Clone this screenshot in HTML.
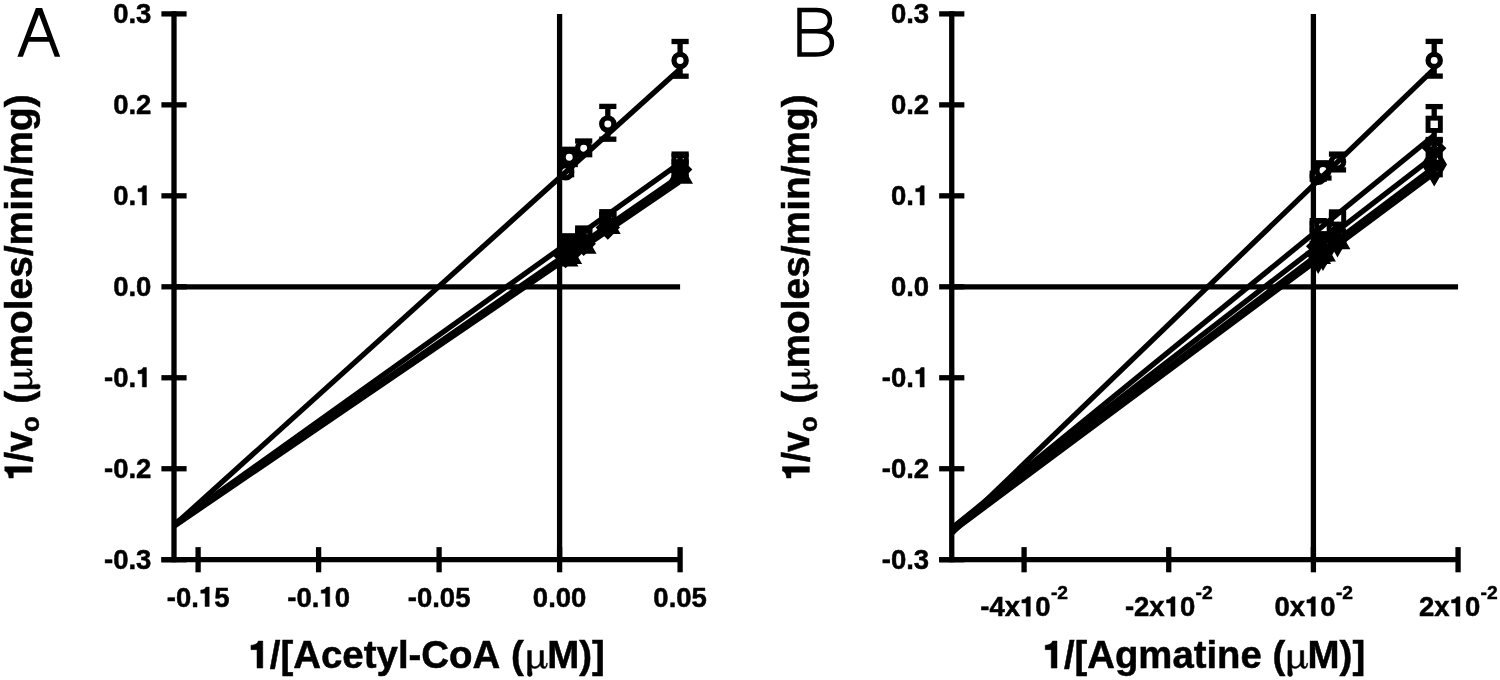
<!DOCTYPE html>
<html><head><meta charset="utf-8"><title>Figure</title>
<style>html,body{margin:0;padding:0;background:#fff;}body{width:1500px;height:680px;overflow:hidden;}svg{display:block;will-change:transform;font-kerning:none;font-family:"Liberation Sans", sans-serif;fill:#000;}</style></head><body>
<svg width="1500" height="680" viewBox="0 0 1500 680">
<rect width="1500" height="680" fill="#fff"/>
<line x1="174.00" y1="11.24" x2="174.00" y2="562.36" stroke="#000" stroke-width="5.3" />
<line x1="161.40" y1="559.71" x2="680.10" y2="559.71" stroke="#000" stroke-width="5.3" />
<line x1="174.00" y1="286.80" x2="680.10" y2="286.80" stroke="#000" stroke-width="5.3" />
<line x1="559.60" y1="13.89" x2="559.60" y2="559.71" stroke="#000" stroke-width="5.3" />
<line x1="161.40" y1="13.89" x2="186.60" y2="13.89" stroke="#000" stroke-width="5.3" />
<text transform="translate(113.18,23.09) scale(0.975177304964539,1)" font-size="28.2" font-weight="bold" text-anchor="start" stroke="#000" stroke-width="0.5" >0.3</text>
<line x1="161.40" y1="104.86" x2="186.60" y2="104.86" stroke="#000" stroke-width="5.3" />
<text transform="translate(113.18,114.06) scale(0.975177304964539,1)" font-size="28.2" font-weight="bold" text-anchor="start" stroke="#000" stroke-width="0.5" >0.2</text>
<line x1="161.40" y1="195.83" x2="186.60" y2="195.83" stroke="#000" stroke-width="5.3" />
<text transform="translate(113.18,205.03) scale(0.975177304964539,1)" font-size="28.2" font-weight="bold" text-anchor="start" stroke="#000" stroke-width="0.5" >0.</text>
<path transform="translate(136.11,205.03) scale(27.500,-28.200)" d="M.376,0 V.688 H.258 C.245,.634 .19,.588 .069,.582 V.470 H.226 V0 Z" fill="#000" stroke="#000" stroke-width="0.0177"/>
<line x1="161.40" y1="286.80" x2="186.60" y2="286.80" stroke="#000" stroke-width="5.3" />
<text transform="translate(113.18,296.00) scale(0.975177304964539,1)" font-size="28.2" font-weight="bold" text-anchor="start" stroke="#000" stroke-width="0.5" >0.0</text>
<line x1="161.40" y1="377.77" x2="186.60" y2="377.77" stroke="#000" stroke-width="5.3" />
<text transform="translate(104.02,386.97) scale(0.975177304964539,1)" font-size="28.2" font-weight="bold" text-anchor="start" stroke="#000" stroke-width="0.5" >-0.</text>
<path transform="translate(136.11,386.97) scale(27.500,-28.200)" d="M.376,0 V.688 H.258 C.245,.634 .19,.588 .069,.582 V.470 H.226 V0 Z" fill="#000" stroke="#000" stroke-width="0.0177"/>
<line x1="161.40" y1="468.74" x2="186.60" y2="468.74" stroke="#000" stroke-width="5.3" />
<text transform="translate(104.02,477.94) scale(0.975177304964539,1)" font-size="28.2" font-weight="bold" text-anchor="start" stroke="#000" stroke-width="0.5" >-0.2</text>
<line x1="161.40" y1="559.71" x2="186.60" y2="559.71" stroke="#000" stroke-width="5.3" />
<text transform="translate(104.02,568.91) scale(0.975177304964539,1)" font-size="28.2" font-weight="bold" text-anchor="start" stroke="#000" stroke-width="0.5" >-0.3</text>
<line x1="198.10" y1="547.11" x2="198.10" y2="572.31" stroke="#000" stroke-width="5.3" />
<text transform="translate(166.76,606.50) scale(0.975177304964539,1)" font-size="28.2" font-weight="bold" text-anchor="start" stroke="#000" stroke-width="0.5" >-0.</text>
<path transform="translate(198.86,606.50) scale(27.500,-28.200)" d="M.376,0 V.688 H.258 C.245,.634 .19,.588 .069,.582 V.470 H.226 V0 Z" fill="#000" stroke="#000" stroke-width="0.0177"/>
<text transform="translate(214.15,606.50) scale(0.975177304964539,1)" font-size="28.2" font-weight="bold" text-anchor="start" stroke="#000" stroke-width="0.5" >5</text>
<line x1="318.60" y1="547.11" x2="318.60" y2="572.31" stroke="#000" stroke-width="5.3" />
<text transform="translate(287.26,606.50) scale(0.975177304964539,1)" font-size="28.2" font-weight="bold" text-anchor="start" stroke="#000" stroke-width="0.5" >-0.</text>
<path transform="translate(319.36,606.50) scale(27.500,-28.200)" d="M.376,0 V.688 H.258 C.245,.634 .19,.588 .069,.582 V.470 H.226 V0 Z" fill="#000" stroke="#000" stroke-width="0.0177"/>
<text transform="translate(334.65,606.50) scale(0.975177304964539,1)" font-size="28.2" font-weight="bold" text-anchor="start" stroke="#000" stroke-width="0.5" >0</text>
<line x1="439.10" y1="547.11" x2="439.10" y2="572.31" stroke="#000" stroke-width="5.3" />
<text transform="translate(407.76,606.50) scale(0.975177304964539,1)" font-size="28.2" font-weight="bold" text-anchor="start" stroke="#000" stroke-width="0.5" >-0.05</text>
<line x1="559.60" y1="547.11" x2="559.60" y2="572.31" stroke="#000" stroke-width="5.3" />
<text transform="translate(532.84,606.50) scale(0.975177304964539,1)" font-size="28.2" font-weight="bold" text-anchor="start" stroke="#000" stroke-width="0.5" >0.00</text>
<line x1="680.10" y1="547.11" x2="680.10" y2="572.31" stroke="#000" stroke-width="5.3" />
<text transform="translate(653.34,606.50) scale(0.975177304964539,1)" font-size="28.2" font-weight="bold" text-anchor="start" stroke="#000" stroke-width="0.5" >0.05</text>
<clipPath id="ca"><rect x="174.00" y="0" width="506.70" height="680"/></clipPath>
<clipPath id="cb"><rect x="951.75" y="0" width="506.91" height="680"/></clipPath>
<line x1="565.62" y1="168.70" x2="565.62" y2="174.70" stroke="#000" stroke-width="5.3" />
<line x1="557.02" y1="168.70" x2="574.23" y2="168.70" stroke="#000" stroke-width="5.3" />
<line x1="557.02" y1="174.70" x2="574.23" y2="174.70" stroke="#000" stroke-width="5.3" />
<circle cx="565.62" cy="171.70" r="6.1" fill="#fff" stroke="#000" stroke-width="5.3"/>
<line x1="569.24" y1="149.30" x2="569.24" y2="164.50" stroke="#000" stroke-width="5.3" />
<line x1="560.64" y1="149.30" x2="577.84" y2="149.30" stroke="#000" stroke-width="5.3" />
<line x1="560.64" y1="164.50" x2="577.84" y2="164.50" stroke="#000" stroke-width="5.3" />
<circle cx="569.24" cy="157.20" r="6.1" fill="#fff" stroke="#000" stroke-width="5.3"/>
<line x1="583.70" y1="141.00" x2="583.70" y2="154.70" stroke="#000" stroke-width="5.3" />
<line x1="575.10" y1="141.00" x2="592.30" y2="141.00" stroke="#000" stroke-width="5.3" />
<line x1="575.10" y1="154.70" x2="592.30" y2="154.70" stroke="#000" stroke-width="5.3" />
<circle cx="583.70" cy="148.25" r="6.1" fill="#fff" stroke="#000" stroke-width="5.3"/>
<line x1="607.80" y1="106.40" x2="607.80" y2="139.20" stroke="#000" stroke-width="5.3" />
<line x1="599.20" y1="106.40" x2="616.40" y2="106.40" stroke="#000" stroke-width="5.3" />
<line x1="599.20" y1="139.20" x2="616.40" y2="139.20" stroke="#000" stroke-width="5.3" />
<circle cx="607.80" cy="124.00" r="6.1" fill="#fff" stroke="#000" stroke-width="5.3"/>
<line x1="680.10" y1="41.50" x2="680.10" y2="76.20" stroke="#000" stroke-width="5.3" />
<line x1="671.50" y1="41.50" x2="688.70" y2="41.50" stroke="#000" stroke-width="5.3" />
<line x1="671.50" y1="76.20" x2="688.70" y2="76.20" stroke="#000" stroke-width="5.3" />
<circle cx="680.10" cy="60.50" r="6.1" fill="#fff" stroke="#000" stroke-width="5.3"/>
<line x1="565.62" y1="239.50" x2="565.62" y2="245.50" stroke="#000" stroke-width="5.3" />
<line x1="557.02" y1="239.50" x2="574.23" y2="239.50" stroke="#000" stroke-width="5.3" />
<line x1="557.02" y1="245.50" x2="574.23" y2="245.50" stroke="#000" stroke-width="5.3" />
<rect x="559.48" y="236.35" width="12.30" height="12.30" fill="none" stroke="#000" stroke-width="4.9"/>
<line x1="569.24" y1="238.80" x2="569.24" y2="244.80" stroke="#000" stroke-width="5.3" />
<line x1="560.64" y1="238.80" x2="577.84" y2="238.80" stroke="#000" stroke-width="5.3" />
<line x1="560.64" y1="244.80" x2="577.84" y2="244.80" stroke="#000" stroke-width="5.3" />
<rect x="563.09" y="235.65" width="12.30" height="12.30" fill="none" stroke="#000" stroke-width="4.9"/>
<line x1="583.70" y1="231.00" x2="583.70" y2="237.00" stroke="#000" stroke-width="5.3" />
<line x1="575.10" y1="231.00" x2="592.30" y2="231.00" stroke="#000" stroke-width="5.3" />
<line x1="575.10" y1="237.00" x2="592.30" y2="237.00" stroke="#000" stroke-width="5.3" />
<rect x="577.55" y="227.85" width="12.30" height="12.30" fill="none" stroke="#000" stroke-width="4.9"/>
<line x1="607.80" y1="214.70" x2="607.80" y2="220.70" stroke="#000" stroke-width="5.3" />
<line x1="599.20" y1="214.70" x2="616.40" y2="214.70" stroke="#000" stroke-width="5.3" />
<line x1="599.20" y1="220.70" x2="616.40" y2="220.70" stroke="#000" stroke-width="5.3" />
<rect x="601.65" y="211.55" width="12.30" height="12.30" fill="none" stroke="#000" stroke-width="4.9"/>
<line x1="680.10" y1="154.10" x2="680.10" y2="169.90" stroke="#000" stroke-width="5.3" />
<line x1="671.50" y1="154.10" x2="688.70" y2="154.10" stroke="#000" stroke-width="5.3" />
<line x1="671.50" y1="169.90" x2="688.70" y2="169.90" stroke="#000" stroke-width="5.3" />
<rect x="673.95" y="155.85" width="12.30" height="12.30" fill="none" stroke="#000" stroke-width="4.9"/>
<line x1="565.62" y1="253.10" x2="565.62" y2="259.10" stroke="#000" stroke-width="5.3" />
<line x1="557.02" y1="253.10" x2="574.23" y2="253.10" stroke="#000" stroke-width="5.3" />
<line x1="557.02" y1="259.10" x2="574.23" y2="259.10" stroke="#000" stroke-width="5.3" />
<polygon points="565.62,247.30 574.42,256.10 565.62,264.90 556.83,256.10" fill="none" stroke="#000" stroke-width="4.9" stroke-linejoin="miter"/>
<line x1="569.24" y1="251.00" x2="569.24" y2="257.00" stroke="#000" stroke-width="5.3" />
<line x1="560.64" y1="251.00" x2="577.84" y2="251.00" stroke="#000" stroke-width="5.3" />
<line x1="560.64" y1="257.00" x2="577.84" y2="257.00" stroke="#000" stroke-width="5.3" />
<polygon points="569.24,245.20 578.04,254.00 569.24,262.80 560.44,254.00" fill="none" stroke="#000" stroke-width="4.9" stroke-linejoin="miter"/>
<line x1="583.70" y1="240.70" x2="583.70" y2="246.70" stroke="#000" stroke-width="5.3" />
<line x1="575.10" y1="240.70" x2="592.30" y2="240.70" stroke="#000" stroke-width="5.3" />
<line x1="575.10" y1="246.70" x2="592.30" y2="246.70" stroke="#000" stroke-width="5.3" />
<polygon points="583.70,234.90 592.50,243.70 583.70,252.50 574.90,243.70" fill="none" stroke="#000" stroke-width="4.9" stroke-linejoin="miter"/>
<line x1="607.80" y1="224.40" x2="607.80" y2="230.40" stroke="#000" stroke-width="5.3" />
<line x1="599.20" y1="224.40" x2="616.40" y2="224.40" stroke="#000" stroke-width="5.3" />
<line x1="599.20" y1="230.40" x2="616.40" y2="230.40" stroke="#000" stroke-width="5.3" />
<polygon points="607.80,218.60 616.60,227.40 607.80,236.20 599.00,227.40" fill="none" stroke="#000" stroke-width="4.9" stroke-linejoin="miter"/>
<line x1="680.10" y1="161.90" x2="680.10" y2="177.10" stroke="#000" stroke-width="5.3" />
<line x1="671.50" y1="161.90" x2="688.70" y2="161.90" stroke="#000" stroke-width="5.3" />
<line x1="671.50" y1="177.10" x2="688.70" y2="177.10" stroke="#000" stroke-width="5.3" />
<polygon points="680.10,160.70 688.90,169.50 680.10,178.30 671.30,169.50" fill="none" stroke="#000" stroke-width="4.9" stroke-linejoin="miter"/>
<line x1="565.62" y1="256.15" x2="565.62" y2="262.15" stroke="#000" stroke-width="5.3" />
<line x1="557.02" y1="256.15" x2="574.23" y2="256.15" stroke="#000" stroke-width="5.3" />
<line x1="557.02" y1="262.15" x2="574.23" y2="262.15" stroke="#000" stroke-width="5.3" />
<polygon points="565.62,249.15 574.28,264.15 556.97,264.15" fill="none" stroke="#000" stroke-width="4.9" stroke-linejoin="miter"/>
<line x1="569.24" y1="253.55" x2="569.24" y2="259.55" stroke="#000" stroke-width="5.3" />
<line x1="560.64" y1="253.55" x2="577.84" y2="253.55" stroke="#000" stroke-width="5.3" />
<line x1="560.64" y1="259.55" x2="577.84" y2="259.55" stroke="#000" stroke-width="5.3" />
<polygon points="569.24,246.55 577.90,261.55 560.58,261.55" fill="none" stroke="#000" stroke-width="4.9" stroke-linejoin="miter"/>
<line x1="583.70" y1="243.35" x2="583.70" y2="249.35" stroke="#000" stroke-width="5.3" />
<line x1="575.10" y1="243.35" x2="592.30" y2="243.35" stroke="#000" stroke-width="5.3" />
<line x1="575.10" y1="249.35" x2="592.30" y2="249.35" stroke="#000" stroke-width="5.3" />
<polygon points="583.70,236.35 592.36,251.35 575.04,251.35" fill="none" stroke="#000" stroke-width="4.9" stroke-linejoin="miter"/>
<line x1="607.80" y1="223.55" x2="607.80" y2="229.55" stroke="#000" stroke-width="5.3" />
<line x1="599.20" y1="223.55" x2="616.40" y2="223.55" stroke="#000" stroke-width="5.3" />
<line x1="599.20" y1="229.55" x2="616.40" y2="229.55" stroke="#000" stroke-width="5.3" />
<polygon points="607.80,216.55 616.46,231.55 599.14,231.55" fill="none" stroke="#000" stroke-width="4.9" stroke-linejoin="miter"/>
<line x1="680.10" y1="173.25" x2="680.10" y2="179.25" stroke="#000" stroke-width="5.3" />
<line x1="671.50" y1="173.25" x2="688.70" y2="173.25" stroke="#000" stroke-width="5.3" />
<line x1="671.50" y1="179.25" x2="688.70" y2="179.25" stroke="#000" stroke-width="5.3" />
<polygon points="680.10,166.25 688.76,181.25 671.44,181.25" fill="none" stroke="#000" stroke-width="4.9" stroke-linejoin="miter"/>
<g clip-path="url(#ca)">
<line x1="174.00" y1="525.40" x2="680.10" y2="68.90" stroke="#000" stroke-width="5.3" />
<line x1="174.00" y1="524.30" x2="680.10" y2="162.80" stroke="#000" stroke-width="5.3" />
<line x1="174.00" y1="525.40" x2="680.10" y2="175.90" stroke="#000" stroke-width="5.3" />
<line x1="174.00" y1="526.20" x2="680.10" y2="181.40" stroke="#000" stroke-width="5.3" />
</g>
<line x1="951.75" y1="11.24" x2="951.75" y2="562.36" stroke="#000" stroke-width="5.3" />
<line x1="939.15" y1="559.71" x2="1458.06" y2="559.71" stroke="#000" stroke-width="5.3" />
<line x1="951.75" y1="286.80" x2="1458.06" y2="286.80" stroke="#000" stroke-width="5.3" />
<line x1="1313.40" y1="13.89" x2="1313.40" y2="559.71" stroke="#000" stroke-width="5.3" />
<line x1="939.15" y1="13.89" x2="964.35" y2="13.89" stroke="#000" stroke-width="5.3" />
<text transform="translate(890.92,23.09) scale(0.975177304964539,1)" font-size="28.2" font-weight="bold" text-anchor="start" stroke="#000" stroke-width="0.5" >0.3</text>
<line x1="939.15" y1="104.86" x2="964.35" y2="104.86" stroke="#000" stroke-width="5.3" />
<text transform="translate(890.92,114.06) scale(0.975177304964539,1)" font-size="28.2" font-weight="bold" text-anchor="start" stroke="#000" stroke-width="0.5" >0.2</text>
<line x1="939.15" y1="195.83" x2="964.35" y2="195.83" stroke="#000" stroke-width="5.3" />
<text transform="translate(890.92,205.03) scale(0.975177304964539,1)" font-size="28.2" font-weight="bold" text-anchor="start" stroke="#000" stroke-width="0.5" >0.</text>
<path transform="translate(913.86,205.03) scale(27.500,-28.200)" d="M.376,0 V.688 H.258 C.245,.634 .19,.588 .069,.582 V.470 H.226 V0 Z" fill="#000" stroke="#000" stroke-width="0.0177"/>
<line x1="939.15" y1="286.80" x2="964.35" y2="286.80" stroke="#000" stroke-width="5.3" />
<text transform="translate(890.92,296.00) scale(0.975177304964539,1)" font-size="28.2" font-weight="bold" text-anchor="start" stroke="#000" stroke-width="0.5" >0.0</text>
<line x1="939.15" y1="377.77" x2="964.35" y2="377.77" stroke="#000" stroke-width="5.3" />
<text transform="translate(881.77,386.97) scale(0.975177304964539,1)" font-size="28.2" font-weight="bold" text-anchor="start" stroke="#000" stroke-width="0.5" >-0.</text>
<path transform="translate(913.86,386.97) scale(27.500,-28.200)" d="M.376,0 V.688 H.258 C.245,.634 .19,.588 .069,.582 V.470 H.226 V0 Z" fill="#000" stroke="#000" stroke-width="0.0177"/>
<line x1="939.15" y1="468.74" x2="964.35" y2="468.74" stroke="#000" stroke-width="5.3" />
<text transform="translate(881.77,477.94) scale(0.975177304964539,1)" font-size="28.2" font-weight="bold" text-anchor="start" stroke="#000" stroke-width="0.5" >-0.2</text>
<line x1="939.15" y1="559.71" x2="964.35" y2="559.71" stroke="#000" stroke-width="5.3" />
<text transform="translate(881.77,568.91) scale(0.975177304964539,1)" font-size="28.2" font-weight="bold" text-anchor="start" stroke="#000" stroke-width="0.5" >-0.3</text>
<line x1="1024.08" y1="547.11" x2="1024.08" y2="572.31" stroke="#000" stroke-width="5.3" />
<text transform="translate(980.24,616.20) scale(0.975177304964539,1)" font-size="28.2" font-weight="bold" text-anchor="start" stroke="#000" stroke-width="0.5" >-4x</text>
<path transform="translate(1019.97,616.20) scale(27.500,-28.200)" d="M.376,0 V.688 H.258 C.245,.634 .19,.588 .069,.582 V.470 H.226 V0 Z" fill="#000" stroke="#000" stroke-width="0.0177"/>
<text transform="translate(1035.26,616.20) scale(0.975177304964539,1)" font-size="28.2" font-weight="bold" text-anchor="start" stroke="#000" stroke-width="0.5" >0</text>
<text transform="translate(1050.95,599.20) scale(1.0,1)" font-size="19.2" font-weight="bold" text-anchor="start" stroke="#000" stroke-width="0.5" >-2</text>
<line x1="1168.74" y1="547.11" x2="1168.74" y2="572.31" stroke="#000" stroke-width="5.3" />
<text transform="translate(1124.90,616.20) scale(0.975177304964539,1)" font-size="28.2" font-weight="bold" text-anchor="start" stroke="#000" stroke-width="0.5" >-2x</text>
<path transform="translate(1164.63,616.20) scale(27.500,-28.200)" d="M.376,0 V.688 H.258 C.245,.634 .19,.588 .069,.582 V.470 H.226 V0 Z" fill="#000" stroke="#000" stroke-width="0.0177"/>
<text transform="translate(1179.92,616.20) scale(0.975177304964539,1)" font-size="28.2" font-weight="bold" text-anchor="start" stroke="#000" stroke-width="0.5" >0</text>
<text transform="translate(1195.61,599.20) scale(1.0,1)" font-size="19.2" font-weight="bold" text-anchor="start" stroke="#000" stroke-width="0.5" >-2</text>
<line x1="1313.40" y1="547.11" x2="1313.40" y2="572.31" stroke="#000" stroke-width="5.3" />
<text transform="translate(1274.39,616.20) scale(0.975177304964539,1)" font-size="28.2" font-weight="bold" text-anchor="start" stroke="#000" stroke-width="0.5" >0x</text>
<path transform="translate(1304.97,616.20) scale(27.500,-28.200)" d="M.376,0 V.688 H.258 C.245,.634 .19,.588 .069,.582 V.470 H.226 V0 Z" fill="#000" stroke="#000" stroke-width="0.0177"/>
<text transform="translate(1320.26,616.20) scale(0.975177304964539,1)" font-size="28.2" font-weight="bold" text-anchor="start" stroke="#000" stroke-width="0.5" >0</text>
<text transform="translate(1335.95,599.20) scale(1.0,1)" font-size="19.2" font-weight="bold" text-anchor="start" stroke="#000" stroke-width="0.5" >-2</text>
<line x1="1458.06" y1="547.11" x2="1458.06" y2="572.31" stroke="#000" stroke-width="5.3" />
<text transform="translate(1419.05,616.20) scale(0.975177304964539,1)" font-size="28.2" font-weight="bold" text-anchor="start" stroke="#000" stroke-width="0.5" >2x</text>
<path transform="translate(1449.63,616.20) scale(27.500,-28.200)" d="M.376,0 V.688 H.258 C.245,.634 .19,.588 .069,.582 V.470 H.226 V0 Z" fill="#000" stroke="#000" stroke-width="0.0177"/>
<text transform="translate(1464.92,616.20) scale(0.975177304964539,1)" font-size="28.2" font-weight="bold" text-anchor="start" stroke="#000" stroke-width="0.5" >0</text>
<text transform="translate(1480.61,599.20) scale(1.0,1)" font-size="19.2" font-weight="bold" text-anchor="start" stroke="#000" stroke-width="0.5" >-2</text>
<line x1="1318.20" y1="173.20" x2="1318.20" y2="179.20" stroke="#000" stroke-width="5.3" />
<line x1="1309.60" y1="173.20" x2="1326.80" y2="173.20" stroke="#000" stroke-width="5.3" />
<line x1="1309.60" y1="179.20" x2="1326.80" y2="179.20" stroke="#000" stroke-width="5.3" />
<circle cx="1318.20" cy="176.20" r="6.1" fill="#fff" stroke="#000" stroke-width="5.3"/>
<line x1="1323.00" y1="162.80" x2="1323.00" y2="178.00" stroke="#000" stroke-width="5.3" />
<line x1="1314.40" y1="162.80" x2="1331.60" y2="162.80" stroke="#000" stroke-width="5.3" />
<line x1="1314.40" y1="178.00" x2="1331.60" y2="178.00" stroke="#000" stroke-width="5.3" />
<circle cx="1323.00" cy="170.40" r="6.1" fill="#fff" stroke="#000" stroke-width="5.3"/>
<line x1="1337.50" y1="154.10" x2="1337.50" y2="169.90" stroke="#000" stroke-width="5.3" />
<line x1="1328.90" y1="154.10" x2="1346.10" y2="154.10" stroke="#000" stroke-width="5.3" />
<line x1="1328.90" y1="169.90" x2="1346.10" y2="169.90" stroke="#000" stroke-width="5.3" />
<circle cx="1337.50" cy="162.00" r="6.1" fill="#fff" stroke="#000" stroke-width="5.3"/>
<line x1="1434.20" y1="41.40" x2="1434.20" y2="76.10" stroke="#000" stroke-width="5.3" />
<line x1="1425.60" y1="41.40" x2="1442.80" y2="41.40" stroke="#000" stroke-width="5.3" />
<line x1="1425.60" y1="76.10" x2="1442.80" y2="76.10" stroke="#000" stroke-width="5.3" />
<circle cx="1434.20" cy="60.40" r="6.1" fill="#fff" stroke="#000" stroke-width="5.3"/>
<line x1="1318.20" y1="223.60" x2="1318.20" y2="229.60" stroke="#000" stroke-width="5.3" />
<line x1="1309.60" y1="223.60" x2="1326.80" y2="223.60" stroke="#000" stroke-width="5.3" />
<line x1="1309.60" y1="229.60" x2="1326.80" y2="229.60" stroke="#000" stroke-width="5.3" />
<rect x="1312.05" y="220.45" width="12.30" height="12.30" fill="#fff" stroke="#000" stroke-width="4.9"/>
<line x1="1323.00" y1="224.40" x2="1323.00" y2="230.40" stroke="#000" stroke-width="5.3" />
<line x1="1314.40" y1="224.40" x2="1331.60" y2="224.40" stroke="#000" stroke-width="5.3" />
<line x1="1314.40" y1="230.40" x2="1331.60" y2="230.40" stroke="#000" stroke-width="5.3" />
<rect x="1316.85" y="221.25" width="12.30" height="12.30" fill="#fff" stroke="#000" stroke-width="4.9"/>
<line x1="1337.50" y1="214.90" x2="1337.50" y2="220.90" stroke="#000" stroke-width="5.3" />
<line x1="1328.90" y1="214.90" x2="1346.10" y2="214.90" stroke="#000" stroke-width="5.3" />
<line x1="1328.90" y1="220.90" x2="1346.10" y2="220.90" stroke="#000" stroke-width="5.3" />
<rect x="1331.35" y="211.75" width="12.30" height="12.30" fill="#fff" stroke="#000" stroke-width="4.9"/>
<line x1="1434.20" y1="106.60" x2="1434.20" y2="139.50" stroke="#000" stroke-width="5.3" />
<line x1="1425.60" y1="106.60" x2="1442.80" y2="106.60" stroke="#000" stroke-width="5.3" />
<line x1="1425.60" y1="139.50" x2="1442.80" y2="139.50" stroke="#000" stroke-width="5.3" />
<rect x="1428.05" y="118.15" width="12.30" height="12.30" fill="#fff" stroke="#000" stroke-width="4.9"/>
<line x1="1318.20" y1="243.35" x2="1318.20" y2="249.35" stroke="#000" stroke-width="5.3" />
<line x1="1309.60" y1="243.35" x2="1326.80" y2="243.35" stroke="#000" stroke-width="5.3" />
<line x1="1309.60" y1="249.35" x2="1326.80" y2="249.35" stroke="#000" stroke-width="5.3" />
<polygon points="1318.20,237.55 1327.00,246.35 1318.20,255.15 1309.40,246.35" fill="none" stroke="#000" stroke-width="4.9" stroke-linejoin="miter"/>
<line x1="1323.00" y1="240.70" x2="1323.00" y2="246.70" stroke="#000" stroke-width="5.3" />
<line x1="1314.40" y1="240.70" x2="1331.60" y2="240.70" stroke="#000" stroke-width="5.3" />
<line x1="1314.40" y1="246.70" x2="1331.60" y2="246.70" stroke="#000" stroke-width="5.3" />
<polygon points="1323.00,234.90 1331.80,243.70 1323.00,252.50 1314.20,243.70" fill="none" stroke="#000" stroke-width="4.9" stroke-linejoin="miter"/>
<line x1="1337.50" y1="231.00" x2="1337.50" y2="237.00" stroke="#000" stroke-width="5.3" />
<line x1="1328.90" y1="231.00" x2="1346.10" y2="231.00" stroke="#000" stroke-width="5.3" />
<line x1="1328.90" y1="237.00" x2="1346.10" y2="237.00" stroke="#000" stroke-width="5.3" />
<polygon points="1337.50,225.20 1346.30,234.00 1337.50,242.80 1328.70,234.00" fill="none" stroke="#000" stroke-width="4.9" stroke-linejoin="miter"/>
<line x1="1434.20" y1="141.00" x2="1434.20" y2="154.70" stroke="#000" stroke-width="5.3" />
<line x1="1425.60" y1="141.00" x2="1442.80" y2="141.00" stroke="#000" stroke-width="5.3" />
<line x1="1425.60" y1="154.70" x2="1442.80" y2="154.70" stroke="#000" stroke-width="5.3" />
<polygon points="1434.20,139.45 1443.00,148.25 1434.20,157.05 1425.40,148.25" fill="none" stroke="#000" stroke-width="4.9" stroke-linejoin="miter"/>
<line x1="1318.20" y1="253.55" x2="1318.20" y2="259.55" stroke="#000" stroke-width="5.3" />
<line x1="1309.60" y1="253.55" x2="1326.80" y2="253.55" stroke="#000" stroke-width="5.3" />
<line x1="1309.60" y1="259.55" x2="1326.80" y2="259.55" stroke="#000" stroke-width="5.3" />
<polygon points="1318.20,246.55 1326.86,261.55 1309.54,261.55" fill="none" stroke="#000" stroke-width="4.9" stroke-linejoin="miter"/>
<line x1="1323.00" y1="251.00" x2="1323.00" y2="257.00" stroke="#000" stroke-width="5.3" />
<line x1="1314.40" y1="251.00" x2="1331.60" y2="251.00" stroke="#000" stroke-width="5.3" />
<line x1="1314.40" y1="257.00" x2="1331.60" y2="257.00" stroke="#000" stroke-width="5.3" />
<polygon points="1323.00,244.00 1331.66,259.00 1314.34,259.00" fill="none" stroke="#000" stroke-width="4.9" stroke-linejoin="miter"/>
<line x1="1337.50" y1="238.80" x2="1337.50" y2="244.80" stroke="#000" stroke-width="5.3" />
<line x1="1328.90" y1="238.80" x2="1346.10" y2="238.80" stroke="#000" stroke-width="5.3" />
<line x1="1328.90" y1="244.80" x2="1346.10" y2="244.80" stroke="#000" stroke-width="5.3" />
<polygon points="1337.50,231.80 1346.16,246.80 1328.84,246.80" fill="none" stroke="#000" stroke-width="4.9" stroke-linejoin="miter"/>
<line x1="1434.20" y1="149.30" x2="1434.20" y2="164.50" stroke="#000" stroke-width="5.3" />
<line x1="1425.60" y1="149.30" x2="1442.80" y2="149.30" stroke="#000" stroke-width="5.3" />
<line x1="1425.60" y1="164.50" x2="1442.80" y2="164.50" stroke="#000" stroke-width="5.3" />
<polygon points="1434.20,147.20 1442.86,162.20 1425.54,162.20" fill="none" stroke="#000" stroke-width="4.9" stroke-linejoin="miter"/>
<line x1="1318.20" y1="256.15" x2="1318.20" y2="262.15" stroke="#000" stroke-width="5.3" />
<line x1="1309.60" y1="256.15" x2="1326.80" y2="256.15" stroke="#000" stroke-width="5.3" />
<line x1="1309.60" y1="262.15" x2="1326.80" y2="262.15" stroke="#000" stroke-width="5.3" />
<polygon points="1318.20,269.15 1326.86,254.15 1309.54,254.15" fill="none" stroke="#000" stroke-width="4.9" stroke-linejoin="miter"/>
<line x1="1323.00" y1="253.10" x2="1323.00" y2="259.10" stroke="#000" stroke-width="5.3" />
<line x1="1314.40" y1="253.10" x2="1331.60" y2="253.10" stroke="#000" stroke-width="5.3" />
<line x1="1314.40" y1="259.10" x2="1331.60" y2="259.10" stroke="#000" stroke-width="5.3" />
<polygon points="1323.00,266.10 1331.66,251.10 1314.34,251.10" fill="none" stroke="#000" stroke-width="4.9" stroke-linejoin="miter"/>
<line x1="1337.50" y1="239.50" x2="1337.50" y2="245.50" stroke="#000" stroke-width="5.3" />
<line x1="1328.90" y1="239.50" x2="1346.10" y2="239.50" stroke="#000" stroke-width="5.3" />
<line x1="1328.90" y1="245.50" x2="1346.10" y2="245.50" stroke="#000" stroke-width="5.3" />
<polygon points="1337.50,252.50 1346.16,237.50 1328.84,237.50" fill="none" stroke="#000" stroke-width="4.9" stroke-linejoin="miter"/>
<line x1="1434.20" y1="168.70" x2="1434.20" y2="174.70" stroke="#000" stroke-width="5.3" />
<line x1="1425.60" y1="168.70" x2="1442.80" y2="168.70" stroke="#000" stroke-width="5.3" />
<line x1="1425.60" y1="174.70" x2="1442.80" y2="174.70" stroke="#000" stroke-width="5.3" />
<polygon points="1434.20,181.70 1442.86,166.70 1425.54,166.70" fill="none" stroke="#000" stroke-width="4.9" stroke-linejoin="miter"/>
<g clip-path="url(#cb)">
<line x1="951.75" y1="533.40" x2="1434.20" y2="68.80" stroke="#000" stroke-width="5.3" />
<line x1="951.75" y1="528.40" x2="1434.20" y2="135.30" stroke="#000" stroke-width="5.3" />
<line x1="951.75" y1="528.20" x2="1434.20" y2="156.10" stroke="#000" stroke-width="5.3" />
<line x1="951.75" y1="530.50" x2="1434.20" y2="167.00" stroke="#000" stroke-width="5.3" />
<line x1="951.75" y1="531.80" x2="1434.20" y2="173.10" stroke="#000" stroke-width="5.3" />
</g>
<path transform="translate(248.32,668.10) scale(38.437,-39.300)" d="M.376,0 V.688 H.258 C.245,.634 .19,.588 .069,.582 V.470 H.226 V0 Z" fill="#000" stroke="#000" stroke-width="0.0127"/>
<text transform="translate(523.80,668.10) scale(0.9780407124681936,1)" font-size="39.3" font-weight="bold" text-anchor="end" stroke="#000" stroke-width="0.5" xml:space="preserve">/[Acetyl-CoA (</text>
<path transform="translate(525.50,668.10) scale(1.012,1)" d="M2.1,-17.5 H5.8 V-5.5 C5.8,-2.4 7.5,-1.4 9.3,-1.4 C12,-1.4 14.4,-3.6 14.4,-7 V-17.5 H17.7 V-4 C17.7,-2 18.2,-1.4 19,-1.4 C20,-1.4 20.6,-2.6 20.9,-5 L21.7,-4.9 C21.5,-1.2 20.2,0.4 18.3,0.4 C16.3,0.4 15,-0.8 14.6,-3 C13.3,-0.8 11.3,0.4 9,0.4 C7.6,0.4 6.5,0 5.8,-0.8 C5.8,2 6.6,4.5 6.6,6 C6.6,7.6 5.6,8.4 4.3,8.4 C2.9,8.4 1.9,7.5 1.9,6 C1.9,4.4 2.1,2.5 2.1,0 Z" fill="#000" stroke="#000" stroke-width="0.5"/>
<text transform="translate(547.26,668.10) scale(0.9785241730279899,1)" font-size="39.3" font-weight="bold" text-anchor="start" stroke="#000" stroke-width="0.5" >M)]</text>
<path transform="translate(1042.58,668.10) scale(38.304,-39.300)" d="M.376,0 V.688 H.258 C.245,.634 .19,.588 .069,.582 V.470 H.226 V0 Z" fill="#000" stroke="#000" stroke-width="0.0127"/>
<text transform="translate(1285.20,668.10) scale(0.9746564885496184,1)" font-size="39.3" font-weight="bold" text-anchor="end" stroke="#000" stroke-width="0.5" xml:space="preserve">/[Agmatine (</text>
<path transform="translate(1285.80,668.10) scale(1.012,1)" d="M2.1,-17.5 H5.8 V-5.5 C5.8,-2.4 7.5,-1.4 9.3,-1.4 C12,-1.4 14.4,-3.6 14.4,-7 V-17.5 H17.7 V-4 C17.7,-2 18.2,-1.4 19,-1.4 C20,-1.4 20.6,-2.6 20.9,-5 L21.7,-4.9 C21.5,-1.2 20.2,0.4 18.3,0.4 C16.3,0.4 15,-0.8 14.6,-3 C13.3,-0.8 11.3,0.4 9,0.4 C7.6,0.4 6.5,0 5.8,-0.8 C5.8,2 6.6,4.5 6.6,6 C6.6,7.6 5.6,8.4 4.3,8.4 C2.9,8.4 1.9,7.5 1.9,6 C1.9,4.4 2.1,2.5 2.1,0 Z" fill="#000" stroke="#000" stroke-width="0.5"/>
<text transform="translate(1307.56,668.10) scale(0.9785241730279899,1)" font-size="39.3" font-weight="bold" text-anchor="start" stroke="#000" stroke-width="0.5" >M)]</text>
<path transform="translate(31.80,480.60) rotate(-90) scale(37.050,-39.300)" d="M.376,0 V.688 H.258 C.245,.634 .19,.588 .069,.582 V.470 H.226 V0 Z" fill="#000" stroke="#000" stroke-width="0.0127"/>
<text transform="translate(31.80,462.20) rotate(-90) scale(0.9427,1)" font-size="39.30" font-weight="bold" text-anchor="start" stroke="#000" stroke-width="0.5" xml:space="preserve">/v</text>
<text transform="translate(39.00,431.90) rotate(-90) scale(1.0153,1)" font-size="25.34" font-weight="bold" text-anchor="start" stroke="#000" stroke-width="0.5" xml:space="preserve">o</text>
<text transform="translate(31.80,390.90) rotate(-90) scale(0.9892,1)" font-size="39.30" font-weight="bold" text-anchor="end" stroke="#000" stroke-width="0.5" xml:space="preserve"> (</text>
<path transform="translate(31.80,390.9) rotate(-90) scale(1.023,1)" d="M2.1,-17.5 H5.8 V-5.5 C5.8,-2.4 7.5,-1.4 9.3,-1.4 C12,-1.4 14.4,-3.6 14.4,-7 V-17.5 H17.7 V-4 C17.7,-2 18.2,-1.4 19,-1.4 C20,-1.4 20.6,-2.6 20.9,-5 L21.7,-4.9 C21.5,-1.2 20.2,0.4 18.3,0.4 C16.3,0.4 15,-0.8 14.6,-3 C13.3,-0.8 11.3,0.4 9,0.4 C7.6,0.4 6.5,0 5.8,-0.8 C5.8,2 6.6,4.5 6.6,6 C6.6,7.6 5.6,8.4 4.3,8.4 C2.9,8.4 1.9,7.5 1.9,6 C1.9,4.4 2.1,2.5 2.1,0 Z" fill="#000" stroke="#000" stroke-width="0.5"/>
<text transform="translate(31.80,368.50) rotate(-90) scale(0.9892,1)" font-size="39.30" font-weight="bold" text-anchor="start" stroke="#000" stroke-width="0.5" xml:space="preserve">moles/min/mg)</text>
<path transform="translate(809.45,480.60) rotate(-90) scale(37.050,-39.300)" d="M.376,0 V.688 H.258 C.245,.634 .19,.588 .069,.582 V.470 H.226 V0 Z" fill="#000" stroke="#000" stroke-width="0.0127"/>
<text transform="translate(809.45,462.20) rotate(-90) scale(0.9427,1)" font-size="39.30" font-weight="bold" text-anchor="start" stroke="#000" stroke-width="0.5" xml:space="preserve">/v</text>
<text transform="translate(816.65,431.90) rotate(-90) scale(1.0153,1)" font-size="25.34" font-weight="bold" text-anchor="start" stroke="#000" stroke-width="0.5" xml:space="preserve">o</text>
<text transform="translate(809.45,390.90) rotate(-90) scale(0.9892,1)" font-size="39.30" font-weight="bold" text-anchor="end" stroke="#000" stroke-width="0.5" xml:space="preserve"> (</text>
<path transform="translate(809.45,390.9) rotate(-90) scale(1.023,1)" d="M2.1,-17.5 H5.8 V-5.5 C5.8,-2.4 7.5,-1.4 9.3,-1.4 C12,-1.4 14.4,-3.6 14.4,-7 V-17.5 H17.7 V-4 C17.7,-2 18.2,-1.4 19,-1.4 C20,-1.4 20.6,-2.6 20.9,-5 L21.7,-4.9 C21.5,-1.2 20.2,0.4 18.3,0.4 C16.3,0.4 15,-0.8 14.6,-3 C13.3,-0.8 11.3,0.4 9,0.4 C7.6,0.4 6.5,0 5.8,-0.8 C5.8,2 6.6,4.5 6.6,6 C6.6,7.6 5.6,8.4 4.3,8.4 C2.9,8.4 1.9,7.5 1.9,6 C1.9,4.4 2.1,2.5 2.1,0 Z" fill="#000" stroke="#000" stroke-width="0.5"/>
<text transform="translate(809.45,368.50) rotate(-90) scale(0.9892,1)" font-size="39.30" font-weight="bold" text-anchor="start" stroke="#000" stroke-width="0.5" xml:space="preserve">moles/min/mg)</text>
<path fill="#000" fill-rule="evenodd" d="M35.9,8 L42.1,8 L60.2,56.8 L54.7,56.8 L49.14,41.8 L28.59,41.8 L22.9,56.8 L17.4,56.8 Z M38.97,14.4 L47.39,37.1 L30.37,37.1 Z"/>
<path fill="none" stroke="#000" stroke-width="4.5" stroke-linejoin="miter" d="M799.5,54.55 V9.9 H816 C826,9.9 829.9,14 829.9,20.5 C829.9,27 826,31.2 816,31.2 C827,31.2 831.9,36 831.9,43 C831.9,50 827,54.55 815,54.55 Z M799.5,31.2 H817"/>
</svg></body></html>
